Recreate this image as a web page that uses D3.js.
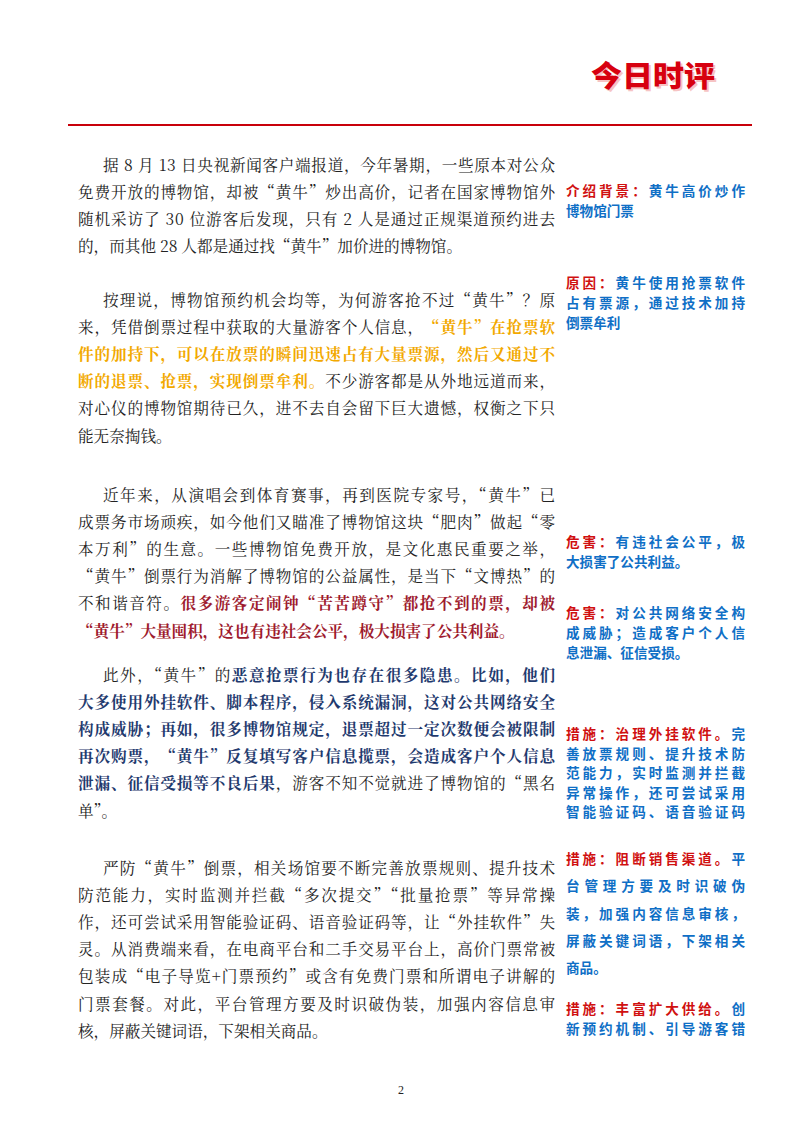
<!DOCTYPE html><html><head><meta charset="utf-8"><script src="https://cdn.jsdelivr.net/npm/d3@7"></script>
<style>body{margin:0;background:#fff}</style></head><body><script>
const mainParas = [
 {top:165, lines:[
  [1,1,[["n","据 8 月 13 日央视新闻客户端报道，今年暑期，一些原本对公众"]]],
  [0,1,[["n","免费开放的博物馆，却被“黄牛”炒出高价，记者在国家博物馆外"]]],
  [0,1,[["n","随机采访了 30 位游客后发现，只有 2 人是通过正规渠道预约进去"]]],
  [0,0,[["n","的，而其他 28 人都是通过找“黄牛”加价进的博物馆。"]]]]},
 {top:300, lines:[
  [1,1,[["n","按理说，博物馆预约机会均等，为何游客抢不过“黄牛”？原"]]],
  [0,1,[["n","来，凭借倒票过程中获取的大量游客个人信息，"],["o","“黄牛”在抢票软"]]],
  [0,1,[["o","件的加持下，可以在放票的瞬间迅速占有大量票源，然后又通过不"]]],
  [0,1,[["o","断的退票、抢票，实现倒票牟利。"],["n","不少游客都是从外地远道而来，"]]],
  [0,1,[["n","对心仪的博物馆期待已久，进不去自会留下巨大遗憾，权衡之下只"]]],
  [0,0,[["n","能无奈掏钱。"]]]]},
 {top:495, lines:[
  [1,1,[["n","近年来，从演唱会到体育赛事，再到医院专家号，“黄牛”已"]]],
  [0,1,[["n","成票务市场顽疾，如今他们又瞄准了博物馆这块“肥肉”做起“零"]]],
  [0,1,[["n","本万利”的生意。一些博物馆免费开放，是文化惠民重要之举，"]]],
  [0,1,[["n","“黄牛”倒票行为消解了博物馆的公益属性，是当下“文博热”的"]]],
  [0,1,[["n","不和谐音符。"],["r","很多游客定闹钟“苦苦蹲守”都抢不到的票，却被"]]],
  [0,0,[["r","“黄牛”大量囤积，这也有违社会公平，极大损害了公共利益。"]]]]},
 {top:675, lines:[
  [1,1,[["n","此外，“黄牛”的"],["b","恶意抢票行为也存在很多隐患。比如，他们"]]],
  [0,1,[["b","大多使用外挂软件、脚本程序，侵入系统漏洞，这对公共网络安全"]]],
  [0,1,[["b","构成威胁；再如，很多博物馆规定，退票超过一定次数便会被限制"]]],
  [0,1,[["b","再次购票，“黄牛”反复填写客户信息揽票，会造成客户个人信息"]]],
  [0,1,[["b","泄漏、征信受损等不良后果"],["n","，游客不知不觉就进了博物馆的“黑名"]]],
  [0,0,[["n","单”。"]]]]},
 {top:868, lines:[
  [1,1,[["n","严防“黄牛”倒票，相关场馆要不断完善放票规则、提升技术"]]],
  [0,1,[["n","防范能力，实时监测并拦截“多次提交”“批量抢票”等异常操"]]],
  [0,1,[["n","作，还可尝试采用智能验证码、语音验证码等，让“外挂软件”失"]]],
  [0,1,[["n","灵。从消费端来看，在电商平台和二手交易平台上，高价门票常被"]]],
  [0,1,[["n","包装成“电子导览+门票预约”或含有免费门票和所谓电子讲解的"]]],
  [0,1,[["n","门票套餐。对此，平台管理方要及时识破伪装，加强内容信息审"]]],
  [0,0,[["n","核，屏蔽关键词语，下架相关商品。"]]]]}
];
const sideNotes = [
 {top:191, gap:20, lines:[[["L","介绍背景："],["B","黄牛高价炒作"]],[["B","博物馆门票"]]]},
 {top:283, gap:20, lines:[[["L","原因："],["B","黄牛使用抢票软件"]],[["B","占有票源，通过技术加持"]],[["B","倒票牟利"]]]},
 {top:542, gap:20, lines:[[["L","危害："],["B","有违社会公平，极"]],[["B","大损害了公共利益。"]]]},
 {top:613, gap:20, lines:[[["L","危害："],["B","对公共网络安全构"]],[["B","成威胁；造成客户个人信"]],[["B","息泄漏、征信受损。"]]]},
 {top:734, gap:19.5, lines:[[["L","措施：治理外挂软件。"],["B","完"]],[["B","善放票规则、提升技术防"]],[["B","范能力，实时监测并拦截"]],[["B","异常操作，还可尝试采用"]],[["B","智能验证码、语音验证码"]]]},
 {top:859, gap:27.3, lines:[[["L","措施：阻断销售渠道。"],["B","平"]],[["B","台管理方要及时识破伪"]],[["B","装，加强内容信息审核，"]],[["B","屏蔽关键词语，下架相关"]],[["B","商品。"]]]},
 {top:1009, gap:20, lines:[[["L","措施：丰富扩大供给。"],["B","创"]],[["B","新预约机制、引导游客错"]]]}
];
const styles = {n:["#222","normal"],o:["#f2a900","bold"],r:["#9e1b2e","bold"],b:["#1f3a6e","bold"],L:["#d01010","bold"],B:["#0f6fc6","bold"]};
const svg = d3.select("body").append("svg").attr("width",800).attr("height",1132);
[["#f6c4c4",2],["#d7000f",0]].forEach(([c,d])=>
 svg.append("text").attr("x",653+d).attr("y",87+d).attr("text-anchor","middle").attr("font-family","Noto Sans CJK SC").attr("font-weight",900)
 .attr("font-size",29).attr("textLength",124).attr("lengthAdjust","spacingAndGlyphs").attr("fill",c).text("今日时评"));
svg.append("line").attr("x1",68).attr("x2",752).attr("y1",125).attr("y2",125).attr("stroke","#c8000a").attr("stroke-width",2.2);
const lh = 27.1;
mainParas.forEach(p=>{
  p.lines.forEach((ln,i)=>{
    const x = ln[0]?103:78;
    const t = svg.append("text").attr("x",x).attr("y",p.top+i*lh+6).attr("font-family","Noto Serif CJK SC, Noto Sans CJK SC").attr("font-size",15.6);
    if(ln[1]) t.attr("textLength",555-x).attr("lengthAdjust","spacing");
    ln[2].forEach(s=>t.append("tspan").attr("fill",styles[s[0]][0]).attr("font-weight",styles[s[0]][1]).text(s[1]));
  });
});
sideNotes.forEach(p=>{
  p.lines.forEach((ln,i)=>{
    const t = svg.append("text").attr("x",566).attr("y",p.top+i*p.gap+5).attr("font-family","Noto Sans CJK SC").attr("font-size",13.6).attr("font-weight","bold");
    const full = ln.map(s=>s[1]).join("").length>=10;
    if(full) t.attr("textLength",179).attr("lengthAdjust","spacing");
    ln.forEach(s=>t.append("tspan").attr("fill",styles[s[0]][0]).text(s[1]));
  });
});
svg.append("text").attr("x",401).attr("y",1094).attr("text-anchor","middle").attr("font-family","Liberation Serif").attr("font-size",12).attr("fill","#222").text("2");
</script></body></html>
